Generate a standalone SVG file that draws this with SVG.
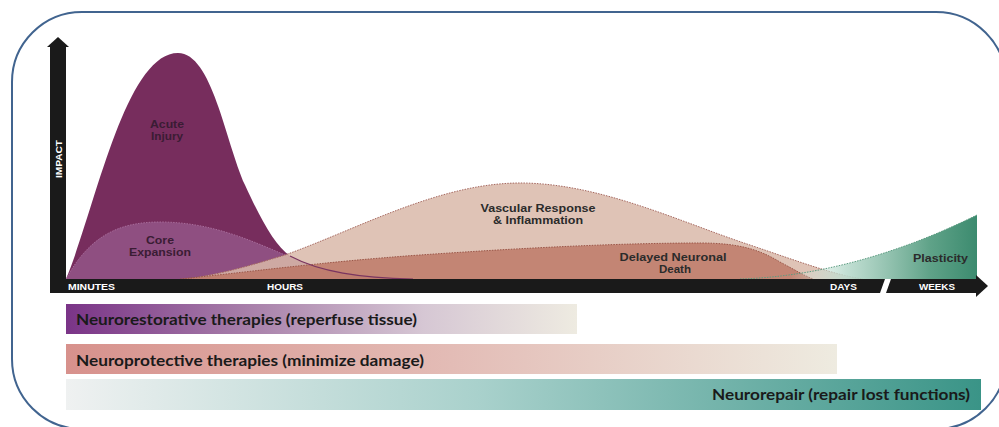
<svg xmlns="http://www.w3.org/2000/svg" width="999" height="427" viewBox="0 0 999 427">
  <defs>
    <style>
      .lbl { font-family: "Liberation Sans", Arial, sans-serif; font-weight: bold; font-size: 10.5px; fill: #2b2b2b; text-anchor: middle; }
      .lblp { fill: #3a1c34; }
      .ax { font-family: "Liberation Sans", Arial, sans-serif; font-weight: bold; font-size: 8.5px; fill: #ffffff; }
      .bar { font-family: Lato, "Open Sans", sans-serif; font-weight: bold; font-size: 14.5px; fill: #1a1a1a; }
      .dot { fill: none; stroke-width: 1; stroke-dasharray: 1.5 1.2; }
    </style>
    <linearGradient id="g1" x1="0" y1="0" x2="1" y2="0">
      <stop offset="0" stop-color="#7a3487"/>
      <stop offset="0.35" stop-color="#a77ea9"/>
      <stop offset="0.7" stop-color="#d6c7d4"/>
      <stop offset="1" stop-color="#eeebe1"/>
    </linearGradient>
    <linearGradient id="g2" x1="0" y1="0" x2="1" y2="0">
      <stop offset="0" stop-color="#d7918c"/>
      <stop offset="0.5" stop-color="#e3bcb6"/>
      <stop offset="1" stop-color="#eeebe0"/>
    </linearGradient>
    <linearGradient id="g3" x1="0" y1="0" x2="1" y2="0">
      <stop offset="0" stop-color="#eff1f1"/>
      <stop offset="0.45" stop-color="#a9d1cc"/>
      <stop offset="1" stop-color="#3a9487"/>
    </linearGradient>
    <linearGradient id="gp" gradientUnits="userSpaceOnUse" x1="790" y1="0" x2="977" y2="0">
      <stop offset="0" stop-color="#d6ebe2" stop-opacity="0"/>
      <stop offset="0.3" stop-color="#bcdccf" stop-opacity="0.9"/>
      <stop offset="0.75" stop-color="#5fa288"/>
      <stop offset="1" stop-color="#3c8b6f"/>
    </linearGradient>
  </defs>

  <rect width="999" height="427" fill="#ffffff"/>

  <g id="frame">
    <rect x="12" y="12" width="994" height="417" rx="70" ry="70" fill="#ffffff" stroke="#41648f" stroke-width="2"/>
  </g>

  <g id="acute-injury">
    <path d="M66,279 C95,210 125,53 178,53 C212,53 225,140 245,185 C262,222 275,245 290,256 C320,272 360,278 413,279 Z" fill="#772d5d"/>
  </g>

  <g id="core-expansion">
    <path d="M66,279 C90,235 120,222 160,222 C210,222 250,240 285,255 C305,262 320,270 340,279 Z" fill="#a0659a" fill-opacity="0.6"/>
    <path class="dot" d="M66,279 C90,235 120,222 160,222 C210,222 250,240 285,255 C305,262 320,270 340,279" stroke="#a86d9b"/>
  </g>

  <g id="vascular-response">
    <path d="M185,279 C220,275 255,264 285,255 C360,228 440,183 520,183 C600,183 680,222 750,245 C800,262 835,275 863,279 Z" fill="#d9b9a9" fill-opacity="0.85"/>
    <path class="dot" d="M185,279 C220,275 255,264 285,255 C360,228 440,183 520,183 C600,183 680,222 750,245 C800,262 835,275 863,279" stroke="#a5675e"/>
  </g>

  <g id="delayed-neuronal-death">
    <path d="M180,279 C250,272 320,262 420,255 C520,248 620,243 700,243 C740,243 760,250 780,262 C795,270 805,276 813,279 Z" fill="#b9705e" fill-opacity="0.75"/>
    <path class="dot" d="M180,279 C250,272 320,262 420,255 C520,248 620,243 700,243 C740,243 760,250 780,262 C795,270 805,276 813,279" stroke="#9a5547"/>
  </g>

  <g id="acute-tail">
    <path d="M290,256 C320,272 360,278 413,279" fill="none" stroke="#7a3560" stroke-width="1.2"/>
  </g>

  <g id="plasticity">
    <path d="M740,279 C810,277 890,258 977,215 L977,279 Z" fill="url(#gp)"/>
    <path class="dot" d="M740,279 C810,277 890,258 977,215" stroke="#5b9b80"/>
  </g>

  <g id="axes">
    <rect x="50" y="46" width="16" height="247" fill="#1a1a1a"/>
    <polygon points="47,47 58,37 69,47" fill="#1a1a1a"/>
    <polygon points="50,279 885,279 880,293 50,293" fill="#1a1a1a"/>
    <polygon points="891,279 977,279 977,293 886,293" fill="#1a1a1a"/>
    <polygon points="976,275 988,286 976,297" fill="#1a1a1a"/>
    <text class="ax" transform="translate(62,159) rotate(-90)" text-anchor="middle" textLength="38" lengthAdjust="spacingAndGlyphs">IMPACT</text>
    <text class="ax" x="68" y="289.5" textLength="47" lengthAdjust="spacingAndGlyphs">MINUTES</text>
    <text class="ax" x="267" y="289.5" textLength="36" lengthAdjust="spacingAndGlyphs">HOURS</text>
    <text class="ax" x="830" y="289.5" textLength="27" lengthAdjust="spacingAndGlyphs">DAYS</text>
    <text class="ax" x="919" y="289.5" textLength="36" lengthAdjust="spacingAndGlyphs">WEEKS</text>
  </g>

  <g id="labels">
    <text class="lbl lblp" x="167" y="128" textLength="34" lengthAdjust="spacingAndGlyphs">Acute</text>
    <text class="lbl lblp" x="167" y="140" textLength="32" lengthAdjust="spacingAndGlyphs">Injury</text>
    <text class="lbl lblp" x="160" y="243.5" textLength="28" lengthAdjust="spacingAndGlyphs">Core</text>
    <text class="lbl lblp" x="160" y="255.5" textLength="62" lengthAdjust="spacingAndGlyphs">Expansion</text>
    <text class="lbl" x="538" y="211.5" textLength="115" lengthAdjust="spacingAndGlyphs">Vascular Response</text>
    <text class="lbl" x="538" y="223.5" textLength="90" lengthAdjust="spacingAndGlyphs">&amp; Inflammation</text>
    <text class="lbl" x="673" y="260.5" textLength="107" lengthAdjust="spacingAndGlyphs">Delayed Neuronal</text>
    <text class="lbl" x="675" y="272.5" textLength="32" lengthAdjust="spacingAndGlyphs">Death</text>
    <text class="lbl" x="940.5" y="262" textLength="55" lengthAdjust="spacingAndGlyphs">Plasticity</text>
  </g>

  <g id="bar-neurorestorative">
    <rect x="66" y="304" width="511" height="30" fill="url(#g1)"/>
    <text class="bar" x="76" y="325" textLength="341" lengthAdjust="spacingAndGlyphs">Neurorestorative therapies (reperfuse tissue)</text>
  </g>
  <g id="bar-neuroprotective">
    <rect x="66" y="344" width="771" height="30" fill="url(#g2)"/>
    <text class="bar" x="76" y="365.5" textLength="348" lengthAdjust="spacingAndGlyphs">Neuroprotective therapies (minimize damage)</text>
  </g>
  <g id="bar-neurorepair">
    <rect x="66" y="379" width="915" height="31" fill="url(#g3)"/>
    <text class="bar" x="970" y="400" text-anchor="end" textLength="258" lengthAdjust="spacingAndGlyphs">Neurorepair (repair lost functions)</text>
  </g>
</svg>
